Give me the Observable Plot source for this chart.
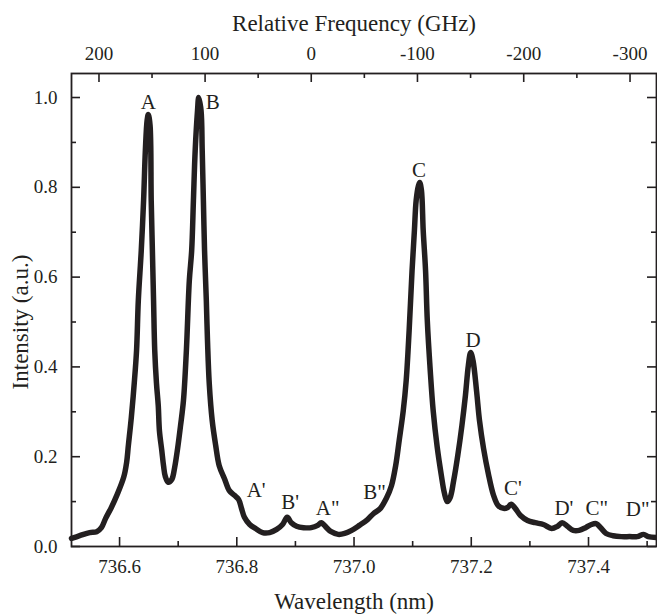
<!DOCTYPE html>
<html>
<head>
<meta charset="utf-8">
<script src="https://cdn.jsdelivr.net/npm/d3@7"></script>
<script src="https://cdn.jsdelivr.net/npm/@observablehq/plot@0.6"></script>
<style>
  html, body { margin: 0; padding: 0; background: #fff; }
  svg { font-family: "Liberation Serif", "Times New Roman", serif; }
</style>
</head>
<body>
<div id="chart"></div>
<script>
// Spectrum: wavelength (nm) and normalised intensity
const wavelength = [
  736.518, 736.532, 736.549, 736.561, 736.569, 736.576, 736.586, 736.596, 736.607, 736.612,
  736.615, 736.620, 736.625, 736.629, 736.632, 736.637, 736.641, 736.644, 736.647, 736.649,
  736.652, 736.654, 736.656, 736.658, 736.660, 736.663, 736.666, 736.668, 736.672, 736.675,
  736.678, 736.683, 736.689, 736.694, 736.699, 736.704, 736.709, 736.714, 736.719, 736.723,
  736.726, 736.729, 736.733, 736.735, 736.739, 736.741, 736.743, 736.745, 736.748, 736.750,
  736.753, 736.758, 736.764, 736.770, 736.779, 736.787, 736.796, 736.803, 736.808, 736.813,
  736.822, 736.832, 736.844, 736.856, 736.868, 736.878, 736.886, 736.893, 736.902, 736.914,
  736.927, 736.938, 736.944, 736.953, 736.961, 736.973, 736.984, 736.996, 737.009, 737.023,
  737.033, 737.045, 737.055, 737.064, 737.071, 737.077, 737.084, 737.089, 737.094, 737.099,
  737.103, 737.106, 737.110, 737.112, 737.115, 737.118, 737.122, 737.125, 737.130, 737.135,
  737.142, 737.149, 737.154, 737.159, 737.164, 737.170, 737.177, 737.184, 737.190, 737.195,
  737.199, 737.203, 737.209, 737.214, 737.221, 737.229, 737.238, 737.246, 737.255, 737.262,
  737.268, 737.275, 737.284, 737.296, 737.309, 737.323, 737.337, 737.347, 737.355, 737.364,
  737.374, 737.384, 737.395, 737.405, 737.413, 737.422, 737.430, 737.442, 737.456, 737.470,
  737.483, 737.494, 737.502, 737.516
];
const intensity = [
  0.018, 0.024, 0.031, 0.033, 0.042, 0.062, 0.087, 0.116, 0.154, 0.187,
  0.225, 0.287, 0.363, 0.437, 0.548, 0.659, 0.771, 0.882, 0.949, 0.962,
  0.938, 0.771, 0.659, 0.548, 0.437, 0.363, 0.314, 0.258, 0.214, 0.180,
  0.156, 0.143, 0.149, 0.176, 0.218, 0.269, 0.325, 0.437, 0.592, 0.659,
  0.771, 0.882, 0.971, 1.000, 0.971, 0.882, 0.771, 0.659, 0.548, 0.459,
  0.363, 0.281, 0.225, 0.180, 0.151, 0.125, 0.114, 0.105, 0.085, 0.065,
  0.049, 0.040, 0.031, 0.031, 0.038, 0.049, 0.065, 0.053, 0.045, 0.042,
  0.042, 0.047, 0.053, 0.042, 0.033, 0.027, 0.029, 0.036, 0.047, 0.060,
  0.073, 0.085, 0.107, 0.136, 0.180, 0.236, 0.303, 0.370, 0.481, 0.615,
  0.704, 0.771, 0.804, 0.811, 0.793, 0.704, 0.615, 0.503, 0.392, 0.303,
  0.220, 0.158, 0.120, 0.100, 0.109, 0.147, 0.203, 0.269, 0.336, 0.403,
  0.432, 0.414, 0.347, 0.281, 0.218, 0.163, 0.114, 0.091, 0.085, 0.087,
  0.094, 0.085, 0.069, 0.058, 0.053, 0.049, 0.040, 0.045, 0.053, 0.045,
  0.036, 0.036, 0.042, 0.049, 0.051, 0.040, 0.029, 0.024, 0.022, 0.022,
  0.022, 0.027, 0.022, 0.020
];

// Peak labels and where they sit (data units)
const peakNames = ["A", "B", "C", "D", "A'", "B'", "A\"", "B\"", "C'", "D'", "C\"", "D\""];
const peakLabelX = [736.649, 736.759, 737.111, 737.203, 736.833, 736.891, 736.955, 737.035, 737.271, 737.358, 737.414, 737.484];
const peakLabelY = [0.989, 0.989, 0.837, 0.459, 0.125, 0.098, 0.085, 0.120, 0.129, 0.085, 0.085, 0.082];

// Axis ticks
const xMajor = [736.6, 736.8, 737.0, 737.2, 737.4];
const xMinor = [736.7, 736.9, 737.1, 737.3, 737.5];
const yMajor = [0, 0.2, 0.4, 0.6, 0.8, 1.0];
const yMinor = [0.1, 0.3, 0.5, 0.7, 0.9];
const freqMajor = [200, 100, 0, -100, -200, -300];
const freqMinor = [150, 50, -50, -150, -250];
const freqLabels = ["200", "100", "0", "-100", "-200", "-300"];
const lambda0 = 736.927; // wavelength of 0 GHz relative frequency
const C = 299792458; // nm·GHz

const xTitle = "Wavelength (nm)";
const x2Title = "Relative Frequency (GHz)";
const yTitle = "Intensity (a.u.)";

const nu0 = C / lambda0;
const freqToLambda = f => C / (nu0 + f);
const freqMajorL = freqMajor.map(freqToLambda);
const freqMinorL = freqMinor.map(freqToLambda);

const data = wavelength.map((w, i) => ({w, v: intensity[i]}));
const peaks = peakNames.map((n, i) => ({n, x: peakLabelX[i], y: peakLabelY[i]}));

const W = 657, H = 616;
const mL = 71, mR = 1, mT = 73, mB = 70;
const pw = W - mL - mR, ph = H - mT - mB;
const majorLen = 9, minorLen = 5;
const ink = "#231f20";
const font = "'Liberation Serif', 'Times New Roman', serif";
const tickFont = 19, titleFont = 23;

const chart = Plot.plot({
  width: W,
  height: H,
  marginLeft: mL,
  marginRight: mR,
  marginTop: mT,
  marginBottom: mB,
  style: {fontFamily: font, background: "#fff", color: ink},
  x: {domain: [736.518, 737.516]},
  y: {domain: [0, 1.0535]},
  marks: [
    Plot.line(data, {x: "w", y: "v", stroke: ink, strokeWidth: 5.5, curve: "catmull-rom", strokeLinejoin: "round", strokeLinecap: "round"}),
    Plot.text(peaks, {x: "x", y: "y", text: "n", fontSize: 21, fill: ink, fontFamily: font}),
    // bottom axis
    Plot.axisX(xMajor, {anchor: "bottom", tickSize: 0, tickPadding: 13, fontSize: tickFont, tickFormat: d => d.toFixed(1), label: null}),
    Plot.tickX(xMajor, {x: d => d, insetTop: ph - majorLen, strokeWidth: 1.6, stroke: ink}),
    Plot.tickX(xMinor, {x: d => d, insetTop: ph - minorLen, strokeWidth: 1.6, stroke: ink}),
    Plot.text([xTitle], {x: () => 737.0, frameAnchor: "bottom", lineAnchor: "middle", dy: 55, text: d => d, fontSize: titleFont, fill: ink, fontFamily: font}),
    // top axis
    Plot.axisX(freqMajorL, {anchor: "top", tickSize: 0, tickPadding: 14, fontSize: tickFont,
      tickFormat: d => freqLabels[freqMajorL.indexOf(d)], label: null}),
    Plot.tickX(freqMajorL, {x: d => d, insetBottom: ph - majorLen, strokeWidth: 1.6, stroke: ink}),
    Plot.tickX(freqMinorL, {x: d => d, insetBottom: ph - minorLen, strokeWidth: 1.6, stroke: ink}),
    Plot.text([x2Title], {x: () => 737.0, frameAnchor: "top", lineAnchor: "middle", dy: -50, text: d => d, fontSize: titleFont, fill: ink, fontFamily: font}),
    // left axis
    Plot.axisY(yMajor, {anchor: "left", tickSize: 0, tickPadding: 14, fontSize: tickFont, tickFormat: d => d.toFixed(1), label: null}),
    Plot.tickY(yMajor, {y: d => d, insetRight: pw - majorLen, strokeWidth: 1.6, stroke: ink}),
    Plot.tickY(yMinor, {y: d => d, insetRight: pw - minorLen, strokeWidth: 1.6, stroke: ink}),
    Plot.text([yTitle], {y: () => 0.5, frameAnchor: "left", textAnchor: "middle", lineAnchor: "middle", dx: -51, rotate: -90, text: d => d, fontSize: titleFont, fill: ink, fontFamily: font}),
    // right axis ticks
    Plot.tickY(yMajor, {y: d => d, insetLeft: pw - majorLen, strokeWidth: 1.6, stroke: ink}),
    Plot.tickY(yMinor, {y: d => d, insetLeft: pw - minorLen, strokeWidth: 1.6, stroke: ink}),
    Plot.frame({stroke: ink, strokeWidth: 1.8})
  ]
});
document.getElementById("chart").appendChild(chart);
</script>
</body>
</html>
